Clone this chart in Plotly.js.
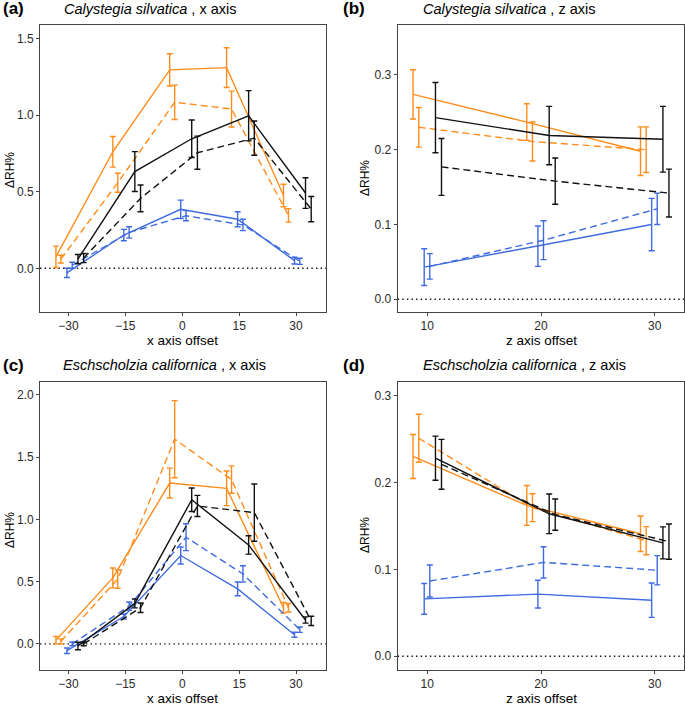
<!DOCTYPE html>
<html>
<head>
<meta charset="utf-8">
<script src="https://cdn.plot.ly/plotly-3.0.1.min.js"></script>
<style>html,body{margin:0;padding:0;background:#fff;}#chart{width:685px;height:706px;}</style>
</head>
<body>
<div id="chart"></div>
<script>
// ---------- DATA ----------
const xOffsets = [-30, -15, 0, 15, 30];
const zOffsets = [10, 20, 30];
const xTicks = [-30, -15, 0, 15, 30];
const zTicks = [10, 20, 30];
const yTicksA = [0, 0.5, 1.0, 1.5];
const yTicksC = [0, 0.5, 1.0, 1.5, 2.0];
const yTicksZ = [0, 0.1, 0.2, 0.3];

const titleA = "Calystegia silvatica";
const titleC = "Eschscholzia californica";

// Panel (a): Calystegia silvatica, x axis
const aOrangeSolid = [0.075, 0.76, 1.294, 1.309, 0.475];
const aOrangeSolidErr = [0.07, 0.10, 0.105, 0.13, 0.073];
const aOrangeDash = [0.06, 0.558, 1.083, 1.039, 0.345];
const aOrangeDashErr = [0.025, 0.062, 0.112, 0.117, 0.044];
const aBlueSolid = [-0.03, 0.217, 0.385, 0.32, 0.05];
const aBlueSolidErr = [0.03, 0.037, 0.06, 0.049, 0.022];
const aBlueDash = [0.02, 0.234, 0.343, 0.283, 0.046];
const aBlueDashErr = [0.02, 0.037, 0.033, 0.037, 0.02];
const aBlackSolid = [0.06, 0.631, 0.845, 0.995, 0.491];
const aBlackSolidErr = [0.03, 0.13, 0.122, 0.164, 0.10];
const aBlackDash = [0.067, 0.456, 0.754, 0.849, 0.386];
const aBlackDashErr = [0.03, 0.087, 0.108, 0.112, 0.082];

// Panel (b): Calystegia silvatica, z axis
const bOrangeSolid = [0.274, 0.237, 0.198];
const bOrangeSolidErr = [0.033, 0.0245, 0.0325];
const bOrangeDash = [0.23, 0.211, 0.20];
const bOrangeDashErr = [0.0265, 0.026, 0.0305];
const bBlueSolid = [0.043, 0.071, 0.10];
const bBlueSolidErr = [0.0245, 0.027, 0.035];
const bBlueDash = [0.044, 0.079, 0.121];
const bBlueDashErr = [0.017, 0.026, 0.021];
const bBlackSolid = [0.243, 0.219, 0.214];
const bBlackSolidErr = [0.047, 0.039, 0.044];
const bBlackDash = [0.177, 0.158, 0.142];
const bBlackDashErr = [0.038, 0.031, 0.032];

// Panel (c): Eschscholzia californica, x axis
const cOrangeSolid = [0.03, 0.53, 1.292, 1.25, 0.29];
const cOrangeSolidErr = [0.03, 0.08, 0.12, 0.139, 0.043];
const cOrangeDash = [0.02, 0.52, 1.645, 1.32, 0.29];
const cOrangeDashErr = [0.02, 0.074, 0.31, 0.11, 0.034];
const cBlueSolid = [-0.055, 0.22, 0.71, 0.442, 0.073];
const cBlueSolidErr = [0.022, 0.02, 0.068, 0.055, 0.02];
const cBlueDash = [0.0, 0.303, 0.857, 0.562, 0.114];
const cBlueDashErr = [0.015, 0.034, 0.108, 0.066, 0.022];
const cBlackSolid = [-0.017, 0.325, 1.158, 0.795, 0.192];
const cBlackSolidErr = [0.03, 0.036, 0.094, 0.074, 0.025];
const cBlackDash = [0.0, 0.29, 1.108, 1.055, 0.185];
const cBlackDashErr = [0.015, 0.038, 0.085, 0.23, 0.037];

// Panel (d): Eschscholzia californica, z axis
const dOrangeSolid = [0.23, 0.1736, 0.141];
const dOrangeSolidErr = [0.0253, 0.023, 0.0205];
const dOrangeDash = [0.251, 0.171, 0.133];
const dOrangeDashErr = [0.0276, 0.016, 0.0162];
const dBlueSolid = [0.066, 0.0715, 0.0645];
const dBlueSolidErr = [0.0177, 0.016, 0.0198];
const dBlueDash = [0.0866, 0.108, 0.099];
const dBlueDashErr = [0.0185, 0.018, 0.0168];
const dBlackSolid = [0.228, 0.164, 0.1305];
const dBlackSolidErr = [0.0254, 0.0228, 0.0184];
const dBlackDash = [0.221, 0.163, 0.132];
const dBlackDashErr = [0.0287, 0.018, 0.0203];

// ---------- STYLE ----------
const ORANGE = "#FF8C1A";
const BLUE = "#3F6BE0";
const BLACK = "#111111";
const DASH = "7px,4px";
const FONT = "Liberation Sans, Arial, Helvetica, sans-serif";
const W = 685, H = 706;

// series styles: colour, dash, dodge (x-panels), dodge (z-panels)
const styles = [
  {c: ORANGE, d: "solid", dx: -3.3, dz: -1.25},
  {c: ORANGE, d: DASH,    dx: -2.0, dz: -0.75},
  {c: BLUE,   d: "solid", dx: -0.4, dz: -0.27},
  {c: BLUE,   d: DASH,    dx: 1.0,  dz: 0.22},
  {c: BLACK,  d: "solid", dx: 2.5,  dz: 0.72},
  {c: BLACK,  d: DASH,    dx: 4.0,  dz: 1.25}
];

const panels = [
  {xa: "x",  ya: "y",  nom: xOffsets, key: "dx", series: [
    [aOrangeSolid, aOrangeSolidErr], [aOrangeDash, aOrangeDashErr],
    [aBlueSolid, aBlueSolidErr], [aBlueDash, aBlueDashErr],
    [aBlackSolid, aBlackSolidErr], [aBlackDash, aBlackDashErr]]},
  {xa: "x2", ya: "y2", nom: zOffsets, key: "dz", series: [
    [bOrangeSolid, bOrangeSolidErr], [bOrangeDash, bOrangeDashErr],
    [bBlueSolid, bBlueSolidErr], [bBlueDash, bBlueDashErr],
    [bBlackSolid, bBlackSolidErr], [bBlackDash, bBlackDashErr]]},
  {xa: "x3", ya: "y3", nom: xOffsets, key: "dx", series: [
    [cOrangeSolid, cOrangeSolidErr], [cOrangeDash, cOrangeDashErr],
    [cBlueSolid, cBlueSolidErr], [cBlueDash, cBlueDashErr],
    [cBlackSolid, cBlackSolidErr], [cBlackDash, cBlackDashErr]]},
  {xa: "x4", ya: "y4", nom: zOffsets, key: "dz", series: [
    [dOrangeSolid, dOrangeSolidErr], [dOrangeDash, dOrangeDashErr],
    [dBlueSolid, dBlueSolidErr], [dBlueDash, dBlueDashErr],
    [dBlackSolid, dBlackSolidErr], [dBlackDash, dBlackDashErr]]}
];

const traces = [];
panels.forEach(p => {
  p.series.forEach((s, i) => {
    const st = styles[i];
    traces.push({
      type: "scatter", mode: "lines",
      x: p.nom.map(v => v + st[p.key]),
      y: s[0],
      xaxis: p.xa, yaxis: p.ya,
      line: {color: st.c, width: 1.4, dash: st.d},
      error_y: {type: "data", array: s[1], visible: true, color: st.c, thickness: 1.4, width: 3},
      showlegend: false, hoverinfo: "skip"
    });
  });
});

// pixel -> paper helpers
const px = v => v / W;
const py = v => 1 - v / H;

function axBase() {
  return {
    showline: true, mirror: true, linecolor: "#444", linewidth: 1,
    ticks: "outside", ticklen: 3, tickcolor: "#444", tickwidth: 1,
    showgrid: false, zeroline: false,
    tickfont: {family: FONT, size: 12, color: "#2a2a2a"}
  };
}

const colX = [[40, 326], [397.7, 684.3]];
const rowY = [[25, 311.7], [382.3, 669.5]];

const layout = {
  width: W, height: H,
  margin: {l: 0, r: 0, t: 0, b: 0},
  paper_bgcolor: "#fff", plot_bgcolor: "#fff",
  showlegend: false,
  font: {family: FONT},
  xaxis:  Object.assign(axBase(), {domain: [px(colX[0][0]), px(colX[0][1])], range: [-37.5, 37.9], tickvals: xTicks, anchor: "y"}),
  yaxis:  Object.assign(axBase(), {domain: [py(rowY[0][1]), py(rowY[0][0])], range: [-0.283, 1.587], tickvals: yTicksA, tickformat: ".1f", anchor: "x"}),
  xaxis2: Object.assign(axBase(), {domain: [px(colX[1][0]), px(colX[1][1])], range: [7.4, 32.6], tickvals: zTicks, anchor: "y2"}),
  yaxis2: Object.assign(axBase(), {domain: [py(rowY[0][1]), py(rowY[0][0])], range: [-0.0166, 0.3668], tickvals: yTicksZ, tickformat: ".1f", anchor: "x2"}),
  xaxis3: Object.assign(axBase(), {domain: [px(colX[0][0]), px(colX[0][1])], range: [-37.5, 37.9], tickvals: xTicks, anchor: "y3"}),
  yaxis3: Object.assign(axBase(), {domain: [py(rowY[1][1]), py(rowY[1][0])], range: [-0.206, 2.102], tickvals: yTicksC, tickformat: ".1f", anchor: "x3"}),
  xaxis4: Object.assign(axBase(), {domain: [px(colX[1][0]), px(colX[1][1])], range: [7.4, 32.6], tickvals: zTicks, anchor: "y4"}),
  yaxis4: Object.assign(axBase(), {domain: [py(rowY[1][1]), py(rowY[1][0])], range: [-0.0153, 0.3154], tickvals: yTicksZ, tickformat: ".1f", anchor: "x4"}),
  shapes: ["", "2", "3", "4"].map(k => ({
    type: "line", xref: "x" + k + " domain", yref: "y" + k,
    x0: 0, x1: 1, y0: 0, y1: 0,
    line: {color: "#111", width: 1.4, dash: "1.4px,3.2px"}, layer: "below"
  })),
  annotations: []
};

function ann(text, x, y, opts) {
  layout.annotations.push(Object.assign({
    text: text, xref: "paper", yref: "paper", x: px(x), y: py(y),
    showarrow: false, xanchor: "center", yanchor: "middle",
    font: {family: FONT, size: 13.5, color: "#000"}
  }, opts || {}));
}

// panel letters
ann("<b>(a)</b>", 1, 9, {xanchor: "left", font: {family: FONT, size: 17, color: "#000"}});
ann("<b>(b)</b>", 341, 9, {xanchor: "left", font: {family: FONT, size: 17, color: "#000"}});
ann("<b>(c)</b>", 1, 365, {xanchor: "left", font: {family: FONT, size: 17, color: "#000"}});
ann("<b>(d)</b>", 341, 365, {xanchor: "left", font: {family: FONT, size: 17, color: "#000"}});

// panel titles
ann("<i>" + titleA + "</i> , x axis", 62, 9, {xanchor: "left", font: {family: FONT, size: 14.5, color: "#000"}});
ann("<i>" + titleA + "</i> , z axis", 421, 9, {xanchor: "left", font: {family: FONT, size: 14.5, color: "#000"}});
ann("<i>" + titleC + "</i> , x axis", 61, 365, {xanchor: "left", font: {family: FONT, size: 14.5, color: "#000"}});
ann("<i>" + titleC + "</i> , z axis", 421, 365, {xanchor: "left", font: {family: FONT, size: 14.5, color: "#000"}});

// axis titles
ann("x axis offset", 183, 341);
ann("z axis offset", 541, 341);
ann("x axis offset", 183, 698);
ann("z axis offset", 541, 698);
ann("ΔRH%", 10, 170, {textangle: -90, font: {family: FONT, size: 12, color: "#000"}});
ann("ΔRH%", 365, 178, {textangle: -90, font: {family: FONT, size: 12, color: "#000"}});
ann("ΔRH%", 10, 530, {textangle: -90, font: {family: FONT, size: 12, color: "#000"}});
ann("ΔRH%", 365, 535, {textangle: -90, font: {family: FONT, size: 12, color: "#000"}});

Plotly.newPlot("chart", traces, layout, {staticPlot: true, displayModeBar: false});
</script>
</body>
</html>
